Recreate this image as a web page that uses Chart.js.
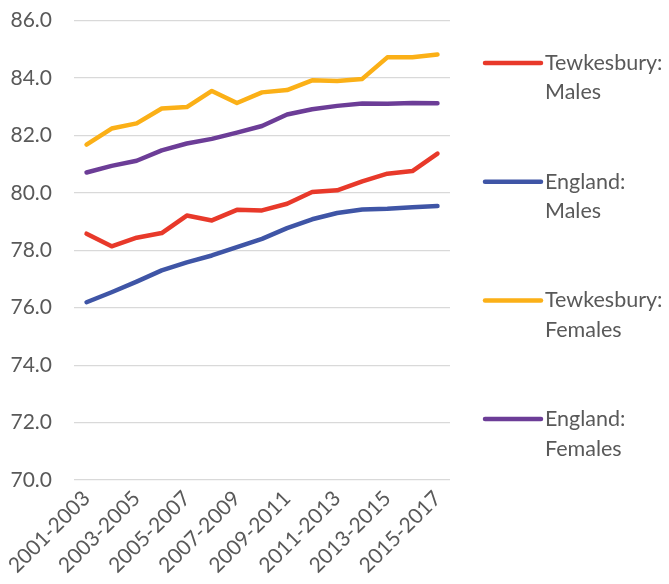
<!DOCTYPE html>
<html>
<head>
<meta charset="utf-8">
<script src="https://cdn.jsdelivr.net/npm/chart.js@4/dist/chart.umd.min.js"></script>
<style>
  html, body { margin: 0; padding: 0; background: #ffffff; }
  #wrap { width: 669px; height: 584px; position: relative; }
</style>
</head>
<body>
<div id="wrap"><canvas id="c" width="669" height="584"></canvas></div>
<script>
// Three-year rolling periods
const periods = ["2001-2003","2002-2004","2003-2005","2004-2006","2005-2007","2006-2008","2007-2009",
  "2008-2010","2009-2011","2010-2012","2011-2013","2012-2014","2013-2015","2014-2016","2015-2017"];

// Life expectancy at birth (years)
const tewkesburyMales   = [78.58,78.14,78.44,78.60,79.21,79.04,79.41,79.39,79.62,80.03,80.09,80.40,80.67,80.76,81.37];
const englandMales      = [76.19,76.54,76.91,77.30,77.58,77.82,78.11,78.40,78.77,79.08,79.30,79.42,79.45,79.50,79.54];
const tewkesburyFemales = [81.68,82.24,82.42,82.94,82.99,83.55,83.13,83.50,83.58,83.92,83.90,83.97,84.72,84.72,84.82];
const englandFemales    = [80.71,80.94,81.12,81.48,81.72,81.88,82.10,82.33,82.73,82.91,83.03,83.11,83.10,83.13,83.12];

const seriesNames = [["Tewkesbury:","Males"],["England:","Males"],["Tewkesbury:","Females"],["England:","Females"]];
const yTicks = { min: 70, max: 86, step: 2 };

const FONT = "Lato, 'Open Sans', sans-serif";
const TEXT = "#595959";

function line(label, data, color) {
  return {
    label: label, data: data, borderColor: color, backgroundColor: color,
    borderWidth: 4.5, pointRadius: 0, pointHoverRadius: 0, tension: 0,
    borderCapStyle: 'round', borderJoinStyle: 'round', fill: false
  };
}

// Two-line legend on the right, one entry per series
const sideLegend = {
  id: 'sideLegend',
  afterDraw(chart) {
    const ctx = chart.ctx;
    const x0 = 485, x1 = 541, tx = 545;
    const top = 63, gap = 118.7, lh = 29.5;
    ctx.save();
    ctx.font = "21.5px " + FONT;
    ctx.textBaseline = 'middle';
    ctx.textAlign = 'left';
    chart.data.datasets.forEach((ds, i) => {
      const y = top + i * gap;
      ctx.strokeStyle = ds.borderColor;
      ctx.lineWidth = 4.5;
      ctx.lineCap = 'round';
      ctx.beginPath(); ctx.moveTo(x0, y); ctx.lineTo(x1, y); ctx.stroke();
      ctx.fillStyle = TEXT;
      seriesNames[i].forEach((t, k) => ctx.fillText(t, tx, y + k * lh));
    });
    ctx.restore();
  }
};

new Chart(document.getElementById('c'), {
  type: 'line',
  data: {
    labels: periods,
    datasets: [
      line(seriesNames[0].join(' '), tewkesburyMales,   '#E8392A'),
      line(seriesNames[1].join(' '), englandMales,      '#3F55A6'),
      line(seriesNames[2].join(' '), tewkesburyFemales, '#FBB017'),
      line(seriesNames[3].join(' '), englandFemales,    '#6C3D97')
    ]
  },
  options: {
    responsive: false,
    animation: false,
    devicePixelRatio: 1,
    layout: { padding: { top: 20.6, right: 219, left: 0, bottom: 0 } },
    plugins: { legend: { display: false }, tooltip: { enabled: false } },
    scales: {
      x: {
        offset: true,
        grid: { display: false, drawTicks: false },
        border: { display: false },
        ticks: {
          autoSkip: false, maxRotation: 45, minRotation: 45, padding: 6,
          color: TEXT, font: { family: FONT, size: 21 },
          callback: function (v, i) { return i % 2 === 0 ? this.getLabelForValue(v) : ''; }
        },
        afterFit(scale) {
          scale.height = 104;
          scale.paddingLeft = 0; scale.paddingRight = 0;
          scale.paddingTop = 0; scale.paddingBottom = 0;
        }
      },
      y: {
        min: yTicks.min, max: yTicks.max,
        grid: { color: '#D9D9D9', lineWidth: 1.3, drawTicks: false },
        border: { display: false },
        ticks: {
          stepSize: yTicks.step, padding: 22,
          color: TEXT, font: { family: FONT, size: 21 },
          callback: v => v.toFixed(1)
        },
        afterFit(scale) {
          scale.width = 74;
          scale.paddingTop = 0; scale.paddingBottom = 0;
        }
      }
    }
  },
  plugins: [sideLegend]
});
</script>
</body>
</html>
